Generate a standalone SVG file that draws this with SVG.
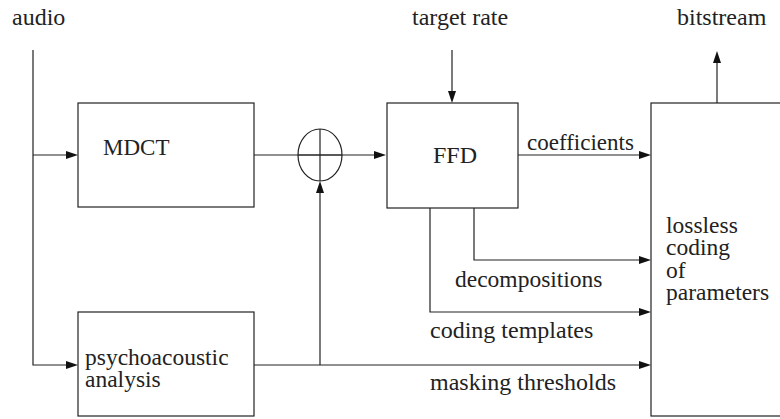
<svg xmlns="http://www.w3.org/2000/svg" width="780" height="419" viewBox="0 0 780 419">
<g id="labels">
<text x="12" y="25" font-family="Liberation Serif" font-size="24" fill="#222">audio</text>
<text x="412" y="25" font-family="Liberation Serif" font-size="24" fill="#222">target rate</text>
<text x="677" y="25" font-family="Liberation Serif" font-size="24" fill="#222">bitstream</text>
</g>
<g id="connectors">
<g fill="none" stroke="#222" stroke-width="1.2">
<path d="M33,50 V365 H70"/>
<path d="M33,155 H70"/>
<path d="M254,155 H378"/>
<path d="M254,365 H643"/>
<path d="M320,365 V189"/>
<path d="M452,50 V95"/>
<path d="M717,103 V59"/>
<path d="M518,155 H643"/>
<path d="M474,208 V260 H643"/>
<path d="M430,208 V312 H643"/>
</g>
<g fill="#111">
<path d="M66,151 L78,155 L66,159 Z"/>
<path d="M66,361 L78,365 L66,369 Z"/>
<path d="M374,151 L386,155 L374,159 Z"/>
<path d="M639,361 L651,365 L639,369 Z"/>
<path d="M639,151 L651,155 L639,159 Z"/>
<path d="M639,256 L651,260 L639,264 Z"/>
<path d="M639,308 L651,312 L639,316 Z"/>
<path d="M316,193 L320,181 L324,193 Z"/>
<path d="M448,91 L452,103 L456,91 Z"/>
<path d="M713,63 L717,51 L721,63 Z"/>
</g>
<text x="527" y="150" font-family="Liberation Serif" font-size="23" fill="#222">coefficients</text>
<text x="455" y="287" font-family="Liberation Serif" font-size="23.5" fill="#222">decompositions</text>
<text x="430" y="338" font-family="Liberation Serif" font-size="24" fill="#222">coding templates</text>
<text x="430" y="390" font-family="Liberation Serif" font-size="24" fill="#222">masking thresholds</text>
</g>
<g id="mdct">
<rect x="78" y="103" width="176" height="104" fill="#fff" stroke="#222" stroke-width="1.2"/>
<text x="103" y="155" font-family="Liberation Serif" font-size="23" fill="#222">MDCT</text>
</g>
<g id="sum" fill="none" stroke="#222" stroke-width="1.2">
<ellipse cx="320" cy="155" rx="22" ry="26"/>
<path d="M298,155 H342 M320,129 V181"/>
</g>
<g id="ffd">
<rect x="387" y="103" width="131" height="105" fill="#fff" stroke="#222" stroke-width="1.2"/>
<text x="433" y="163" font-family="Liberation Serif" font-size="24" fill="#222">FFD</text>
</g>
<g id="psycho">
<rect x="78" y="312" width="176" height="104" fill="#fff" stroke="#222" stroke-width="1.2"/>
<text x="85" y="365" font-family="Liberation Serif" font-size="23.5" fill="#222">psychoacoustic</text>
<text x="85" y="387" font-family="Liberation Serif" font-size="23.5" fill="#222">analysis</text>
</g>
<g id="lossless">
<rect x="651" y="103" width="140" height="313" fill="#fff" stroke="#222" stroke-width="1.2"/>
<text x="666" y="233" font-family="Liberation Serif" font-size="23.5" fill="#222">lossless</text>
<text x="666" y="255" font-family="Liberation Serif" font-size="23.5" fill="#222">coding</text>
<text x="666" y="278" font-family="Liberation Serif" font-size="23.5" fill="#222">of</text>
<text x="666" y="300" font-family="Liberation Serif" font-size="23.5" fill="#222">parameters</text>
</g>
</svg>
